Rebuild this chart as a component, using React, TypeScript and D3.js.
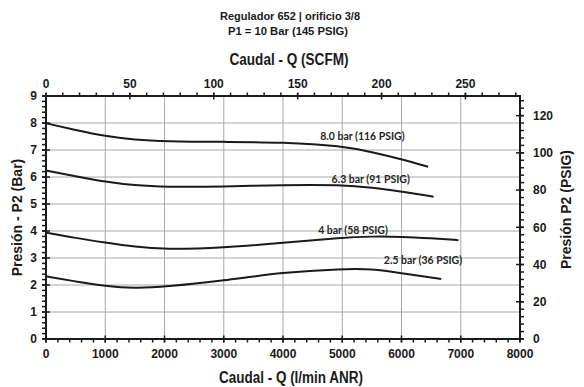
import { useEffect, useRef } from 'react'
import * as d3 from 'd3'

// curve data: flow in l/min ANR, outlet pressure in bar
const curveNames = ['8.0 bar (116 PSIG)', '6.3 bar (91 PSIG)', '4 bar (58 PSIG)', '2.5 bar (36 PSIG)']

const flow80 = [0, 500, 1000, 1500, 2000, 3000, 4000, 5000, 5500, 6000, 6450]
const bar80 = [7.99, 7.74, 7.51, 7.38, 7.32, 7.30, 7.29, 7.15, 6.92, 6.66, 6.38]

const flow63 = [0, 500, 1000, 1500, 2000, 3000, 4000, 5000, 5500, 6000, 6540]
const bar63 = [6.24, 6.03, 5.82, 5.69, 5.63, 5.64, 5.71, 5.71, 5.61, 5.46, 5.27]

const flow40 = [0, 500, 1000, 1500, 2000, 3000, 4000, 5000, 5500, 6000, 6500, 6960]
const bar40 = [3.94, 3.74, 3.57, 3.41, 3.32, 3.38, 3.56, 3.76, 3.80, 3.79, 3.73, 3.66]

const flow25 = [0, 500, 1000, 1500, 2000, 3000, 4000, 5000, 5500, 6000, 6670]
const bar25 = [2.32, 2.13, 1.96, 1.88, 1.93, 2.16, 2.47, 2.60, 2.60, 2.44, 2.22]

// where each curve label sits (l/min, bar)
const labelFlow = [5341, 5481, 5182, 6363]
const labelBar = [7.50, 5.90, 4.02, 2.91]

const flowTicks = [0, 1000, 2000, 3000, 4000, 5000, 6000, 7000, 8000]
const barTicks = [0, 1, 2, 3, 4, 5, 6, 7, 8, 9]
const scfmTicks = [0, 50, 100, 150, 200, 250]
const psigTicks = [0, 20, 40, 60, 80, 100, 120]

const LPM_PER_SCFM = 28.3168
const PSI_PER_BAR = 14.5038

const W = 584
const H = 387
const margin = { left: 46, right: 64, top: 96, bottom: 48 }

export default function App() {
  const svgRef = useRef<SVGSVGElement | null>(null)

  useEffect(() => {
    if (!svgRef.current) return
    const svg = d3.select(svgRef.current)
    svg.selectAll('*').remove()

    const x0 = margin.left
    const x1 = W - margin.right
    const y0 = H - margin.bottom
    const y1 = margin.top

    const x = d3.scaleLinear().domain([0, 8000]).range([x0, x1])
    const y = d3.scaleLinear().domain([0, 9]).range([y0, y1])
    const xTop = d3.scaleLinear().domain([0, 8000 / LPM_PER_SCFM]).range([x0, x1])
    const yRight = d3.scaleLinear().domain([0, 9 * PSI_PER_BAR]).range([y0, y1])

    const tickFont = 'Liberation Sans, Arial, sans-serif'
    const ink = '#1a1a1a'

    // grid
    const grid = svg.append('g')
    grid.selectAll('.vg').data(flowTicks.slice(1, -1)).join('line')
      .attr('x1', d => x(d)).attr('x2', d => x(d))
      .attr('y1', y1).attr('y2', y0)
      .attr('stroke', '#a8a8a8').attr('stroke-width', 1)
    grid.selectAll('.hg').data(barTicks.slice(1, -1)).join('line')
      .attr('x1', x0).attr('x2', x1)
      .attr('y1', d => y(d)).attr('y2', d => y(d))
      .attr('stroke', '#a8a8a8').attr('stroke-width', 1)

    // curves
    const series = [
      flow80.map((f, i) => [f, bar80[i]]),
      flow63.map((f, i) => [f, bar63[i]]),
      flow40.map((f, i) => [f, bar40[i]]),
      flow25.map((f, i) => [f, bar25[i]]),
    ] as [number, number][][]

    const line = d3.line<[number, number]>()
      .x(d => x(d[0]))
      .y(d => y(d[1]))
      .curve(d3.curveBasis)

    svg.append('g').selectAll('path').data(series).join('path')
      .attr('d', d => line(d))
      .attr('fill', 'none')
      .attr('stroke', ink)
      .attr('stroke-width', 2)

    svg.append('g').selectAll('text').data(curveNames).join('text')
      .attr('x', (d, i) => x(labelFlow[i]))
      .attr('y', (d, i) => y(labelBar[i]))
      .attr('dy', '0.35em')
      .attr('text-anchor', 'middle')
      .attr('font-family', 'Lato, Open Sans, sans-serif')
      .attr('font-weight', 'bold')
      .attr('font-size', '10.5px')
      .attr('fill', '#262626')
      .text(d => d)

    // frame
    svg.append('rect')
      .attr('x', x0).attr('y', y1)
      .attr('width', x1 - x0).attr('height', y0 - y1)
      .attr('fill', 'none').attr('stroke', ink).attr('stroke-width', 2)

    const ticks = svg.append('g').attr('stroke', ink)

    // bottom: l/min
    ticks.selectAll('.bmin').data(d3.range(0, 8001, 200)).join('line')
      .attr('x1', d => x(d)).attr('x2', d => x(d))
      .attr('y1', y0).attr('y2', y0 + 3.5)
      .attr('stroke-width', 1.5)
    ticks.selectAll('.bmaj').data(flowTicks).join('line')
      .attr('x1', d => x(d)).attr('x2', d => x(d))
      .attr('y1', y0 - 3.5).attr('y2', y0 + 3.5)
      .attr('stroke-width', 1.5)

    // top: SCFM
    ticks.selectAll('.tmin').data(d3.range(0, 281, 10)).join('line')
      .attr('x1', d => xTop(d)).attr('x2', d => xTop(d))
      .attr('y1', y1).attr('y2', y1 - 3.5)
      .attr('stroke-width', 1.5)
    ticks.selectAll('.tmaj').data(scfmTicks).join('line')
      .attr('x1', d => xTop(d)).attr('x2', d => xTop(d))
      .attr('y1', y1 - 3).attr('y2', y1 + 3.5)
      .attr('stroke-width', 1.5)

    // left: bar
    ticks.selectAll('.lmin').data(d3.range(0, 9.01, 0.2)).join('line')
      .attr('x1', x0).attr('x2', x0 - 4)
      .attr('y1', d => y(d)).attr('y2', d => y(d))
      .attr('stroke-width', 1.5)
    ticks.selectAll('.lmaj').data(barTicks).join('line')
      .attr('x1', x0 - 4).attr('x2', x0 + 4)
      .attr('y1', d => y(d)).attr('y2', d => y(d))
      .attr('stroke-width', 1.5)

    // right: PSIG
    ticks.selectAll('.rmin').data(d3.range(0, 130, 4)).join('line')
      .attr('x1', x1).attr('x2', x1 + 4)
      .attr('y1', d => yRight(d)).attr('y2', d => yRight(d))
      .attr('stroke-width', 1.5)
    ticks.selectAll('.rmaj').data(psigTicks).join('line')
      .attr('x1', x1 - 4).attr('x2', x1 + 4)
      .attr('y1', d => yRight(d)).attr('y2', d => yRight(d))
      .attr('stroke-width', 1.5)

    const labels = svg.append('g')
      .attr('font-family', tickFont)
      .attr('font-weight', 'bold')
      .attr('font-size', '12px')
      .attr('fill', ink)

    labels.selectAll('.bl').data(flowTicks).join('text')
      .attr('x', d => x(d)).attr('y', y0 + 19)
      .attr('text-anchor', 'middle')
      .text(d => d)
    labels.selectAll('.tl').data(scfmTicks).join('text')
      .attr('x', d => xTop(d)).attr('y', y1 - 8)
      .attr('text-anchor', 'middle')
      .text(d => d)
    labels.selectAll('.ll').data(barTicks).join('text')
      .attr('x', x0 - 9).attr('y', d => y(d)).attr('dy', '0.35em')
      .attr('text-anchor', 'end')
      .text(d => d)
    labels.selectAll('.rl').data(psigTicks).join('text')
      .attr('x', x1 + 13).attr('y', d => yRight(d)).attr('dy', '0.35em')
      .attr('text-anchor', 'start')
      .text(d => d)

    // axis titles
    const titles = svg.append('g')
      .attr('font-family', tickFont)
      .attr('font-weight', 'bold')
      .attr('fill', ink)

    titles.append('text')
      .attr('x', 291).attr('y', 383)
      .attr('text-anchor', 'middle').attr('font-size', '16px')
      .attr('textLength', 144).attr('lengthAdjust', 'spacingAndGlyphs')
      .text('Caudal - Q (l/min ANR)')
    titles.append('text')
      .attr('x', 289).attr('y', 65)
      .attr('text-anchor', 'middle').attr('font-size', '16px')
      .attr('textLength', 119).attr('lengthAdjust', 'spacingAndGlyphs')
      .text('Caudal - Q (SCFM)')
    titles.append('text')
      .attr('transform', `translate(22, ${(y0 + y1) / 2}) rotate(-90)`)
      .attr('text-anchor', 'middle').attr('font-size', '14px')
      .text('Presión  - P2 (Bar)')
    titles.append('text')
      .attr('transform', `translate(571, ${(y0 + y1) / 2 - 8}) rotate(-90)`)
      .attr('text-anchor', 'middle').attr('font-size', '14px')
      .text('Presión P2 (PSIG)')

    // chart title
    titles.append('text')
      .attr('x', 290).attr('y', 20)
      .attr('text-anchor', 'middle').attr('font-size', '11px')
      .attr('textLength', 140).attr('lengthAdjust', 'spacingAndGlyphs')
      .text('Regulador 652 | orificio 3/8')
    titles.append('text')
      .attr('x', 288).attr('y', 35)
      .attr('text-anchor', 'middle').attr('font-size', '11px')
      .attr('textLength', 120).attr('lengthAdjust', 'spacingAndGlyphs')
      .text('P1 = 10 Bar (145 PSIG)')
  }, [])

  return (
    <svg
      ref={svgRef}
      width={W}
      height={H}
      style={{ position: 'absolute', left: 0, top: 0, background: '#fff' }}
    />
  )
}
